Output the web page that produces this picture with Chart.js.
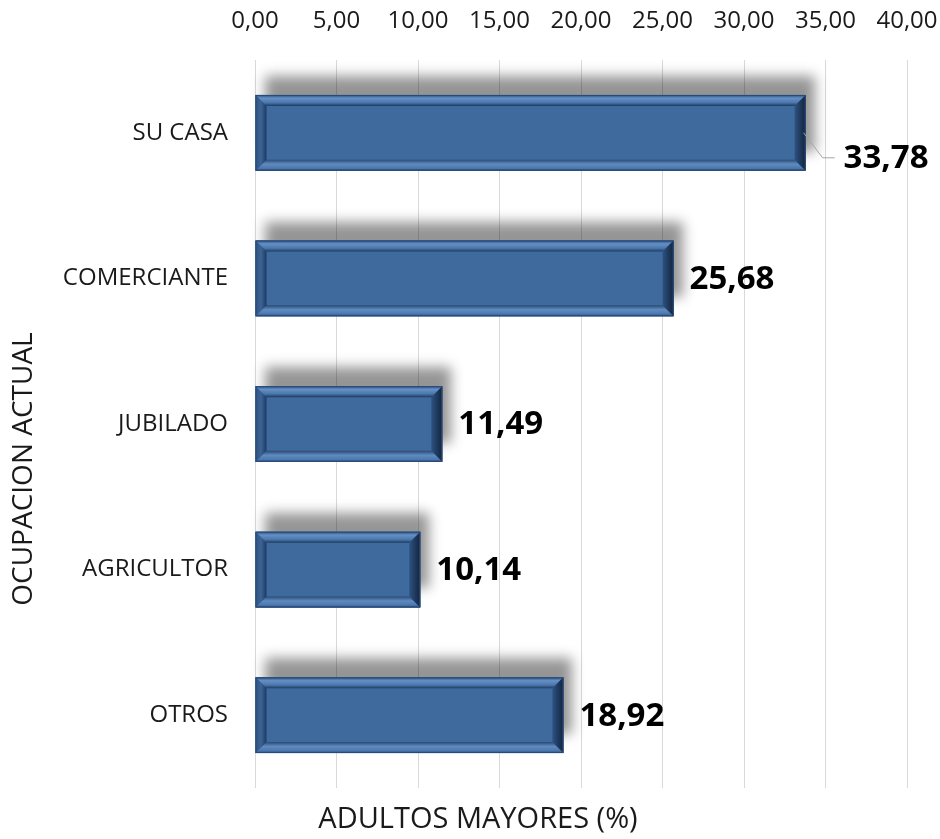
<!DOCTYPE html>
<html>
<head>
<meta charset="utf-8">
<script src="https://cdn.jsdelivr.net/npm/chart.js@4.4.1/dist/chart.umd.min.js"></script>
<style>
  html, body { margin: 0; padding: 0; background: #fff; }
  #wrap { width: 940px; height: 839px; }
</style>
</head>
<body>
<div id="wrap"><canvas id="grafico"></canvas></div>
<script>
// Datos del gráfico
const ocupaciones = ['SU CASA', 'COMERCIANTE', 'JUBILADO', 'AGRICULTOR', 'OTROS'];
const porcentajes = [33.78, 25.68, 11.49, 10.14, 18.92];
const ejeMin = 0;
const ejeMax = 40;
const ejePaso = 5;
const tituloX = 'ADULTOS MAYORES (%)';
const tituloY = 'OCUPACION ACTUAL';

const fuente = "'Open Sans', 'DejaVu Sans', sans-serif";
const colorTexto = '#1a1a1a';

// formato con coma decimal
function conComa(v) {
    return Number(v).toFixed(2).replace('.', ',');
}

// Sombra detrás de cada barra
const sombraBarras = {
    id: 'sombraBarras',
    beforeDatasetsDraw(chart) {
        const ctx = chart.ctx;
        const meta = chart.getDatasetMeta(0);
        ctx.save();
        meta.data.forEach(bar => {
            const l = Math.min(bar.base, bar.x), r = Math.max(bar.base, bar.x);
            const t = bar.y - bar.height / 2, b = bar.y + bar.height / 2;
            ctx.shadowColor = 'rgba(0,0,0,0.42)';
            ctx.shadowBlur = 12;
            ctx.shadowOffsetX = 9;
            ctx.shadowOffsetY = -19;
            ctx.fillStyle = '#3d6a9e';
            ctx.fillRect(l, t, r - l, b - t);
        });
        ctx.restore();
    }
};

// Bisel encima de cada barra
const biselBarras = {
    id: 'biselBarras',
    afterDatasetsDraw(chart) {
        const ctx = chart.ctx;
        const meta = chart.getDatasetMeta(0);
        const w = 11;
        ctx.save();
        meta.data.forEach(bar => {
            const l = Math.min(bar.base, bar.x), r = Math.max(bar.base, bar.x);
            const t = bar.y - bar.height / 2, b = bar.y + bar.height / 2;

            ctx.fillStyle = '#3e6a9d';
            ctx.fillRect(l, t, r - l, b - t);

            // borde superior
            let g = ctx.createLinearGradient(0, t, 0, t + w);
            g.addColorStop(0, '#2c507e');
            g.addColorStop(0.3, '#6590c5');
            g.addColorStop(0.7, '#4a77ad');
            g.addColorStop(1, '#1f3a5e');
            ctx.fillStyle = g;
            ctx.beginPath();
            ctx.moveTo(l, t); ctx.lineTo(r, t); ctx.lineTo(r - w, t + w); ctx.lineTo(l + w, t + w);
            ctx.closePath(); ctx.fill();

            // borde inferior
            g = ctx.createLinearGradient(0, b - w, 0, b);
            g.addColorStop(0, '#2a4a74');
            g.addColorStop(0.4, '#5f8bc1');
            g.addColorStop(0.8, '#4a77ad');
            g.addColorStop(1, '#24426b');
            ctx.fillStyle = g;
            ctx.beginPath();
            ctx.moveTo(l, b); ctx.lineTo(r, b); ctx.lineTo(r - w, b - w); ctx.lineTo(l + w, b - w);
            ctx.closePath(); ctx.fill();

            // borde izquierdo
            g = ctx.createLinearGradient(l, 0, l + w, 0);
            g.addColorStop(0, '#2f5384');
            g.addColorStop(0.5, '#3b6496');
            g.addColorStop(1, '#1e3a60');
            ctx.fillStyle = g;
            ctx.beginPath();
            ctx.moveTo(l, t); ctx.lineTo(l + w, t + w); ctx.lineTo(l + w, b - w); ctx.lineTo(l, b);
            ctx.closePath(); ctx.fill();

            // borde derecho
            g = ctx.createLinearGradient(r - w, 0, r, 0);
            g.addColorStop(0, '#2d5282');
            g.addColorStop(0.6, '#1d3658');
            g.addColorStop(1, '#13243d');
            ctx.fillStyle = g;
            ctx.beginPath();
            ctx.moveTo(r, t); ctx.lineTo(r - w, t + w); ctx.lineTo(r - w, b - w); ctx.lineTo(r, b);
            ctx.closePath(); ctx.fill();

            ctx.strokeStyle = '#2a4b77';
            ctx.lineWidth = 1;
            ctx.strokeRect(l + 0.5, t + 0.5, r - l - 1, b - t - 1);
        });
        ctx.restore();
    }
};

// Etiquetas de valor (la primera con línea guía)
const etiquetasValor = {
    id: 'etiquetasValor',
    afterDatasetsDraw(chart) {
        const ctx = chart.ctx;
        const meta = chart.getDatasetMeta(0);
        ctx.save();
        ctx.font = "bold 33px " + fuente;
        ctx.fillStyle = '#000';
        ctx.textAlign = 'left';
        ctx.textBaseline = 'middle';
        meta.data.forEach((bar, i) => {
            const txt = conComa(porcentajes[i]);
            if (i === 0) {
                const ly = bar.y + 25;
                ctx.strokeStyle = '#a6a6a6';
                ctx.lineWidth = 1;
                ctx.beginPath();
                ctx.moveTo(bar.x - 2, bar.y);
                ctx.lineTo(bar.x + 17, ly);
                ctx.lineTo(bar.x + 29, ly);
                ctx.stroke();
                ctx.fillText(txt, bar.x + 38, ly + 1);
            } else {
                ctx.fillText(txt, bar.x + 16, bar.y + 1);
            }
        });
        ctx.restore();
    }
};

// Títulos de los ejes
const titulosEjes = {
    id: 'titulosEjes',
    afterDraw(chart) {
        const ctx = chart.ctx;
        const area = chart.chartArea;
        ctx.save();
        ctx.fillStyle = colorTexto;
        ctx.textAlign = 'center';
        ctx.textBaseline = 'middle';
        ctx.font = "29px " + fuente;
        ctx.fillText(tituloX, area.left + 223, chart.height - 19);
        ctx.translate(24, (area.top + area.bottom) / 2 + 45);
        ctx.rotate(-Math.PI / 2);
        ctx.font = "28px " + fuente;
        ctx.fillText(tituloY, 0, 0);
        ctx.restore();
    }
};

const ctx = document.getElementById('grafico').getContext('2d');
new Chart(ctx, {
    type: 'bar',
    data: {
        labels: ocupaciones,
        datasets: [{
            data: porcentajes,
            backgroundColor: 'rgba(0,0,0,0)',
            borderWidth: 0,
            categoryPercentage: 0.52,
            barPercentage: 1
        }]
    },
    options: {
        indexAxis: 'y',
        responsive: true,
        maintainAspectRatio: false,
        animation: false,
        layout: { padding: { left: 0, right: 33, top: 0, bottom: 51 } },
        plugins: {
            legend: { display: false },
            tooltip: { enabled: false }
        },
        scales: {
            x: {
                position: 'top',
                min: ejeMin,
                max: ejeMax,
                ticks: {
                    stepSize: ejePaso,
                    maxRotation: 0,
                    callback: v => conComa(v),
                    color: colorTexto,
                    font: { family: fuente, size: 24 },
                    padding: 24
                },
                grid: { color: '#d9d9d9', drawTicks: false },
                border: { display: false },
                afterFit(scale) {
                    scale.height = 60;
                    scale.paddingLeft = 0;
                    scale.paddingRight = 0;
                }
            },
            y: {
                ticks: {
                    color: colorTexto,
                    font: { family: fuente, size: 24 },
                    padding: 27
                },
                grid: { display: false, drawTicks: false },
                border: { display: false },
                afterFit(scale) {
                    scale.width = 255;
                    scale.paddingTop = 0;
                    scale.paddingBottom = 0;
                }
            }
        }
    },
    plugins: [sombraBarras, biselBarras, etiquetasValor, titulosEjes]
});
</script>
</body>
</html>
